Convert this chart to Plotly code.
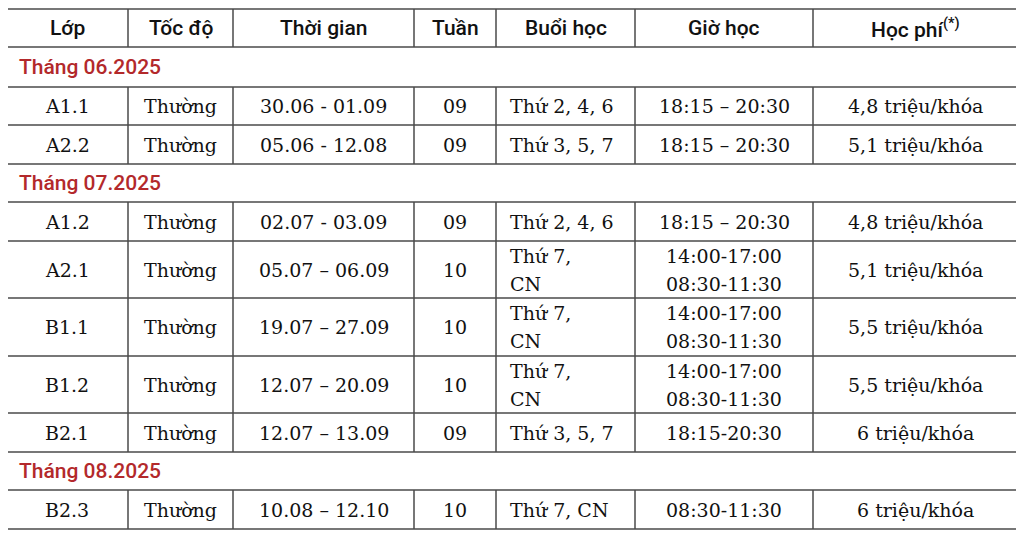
import plotly.graph_objects as go

# cot va du lieu
headers = ["Lớp", "Tốc độ", "Thời gian", "Tuần", "Buổi học", "Giờ học", "Học phí<sup>(*)</sup>"]
months = ["Tháng 06.2025", "Tháng 07.2025", "Tháng 08.2025"]
month_of_row = [0, 0, 1, 1, 1, 1, 1, 2]

lop = ["A1.1", "A2.2", "A1.2", "A2.1", "B1.1", "B1.2", "B2.1", "B2.3"]
toc_do = ["Thường"] * 8
thoi_gian = ["30.06 - 01.09", "05.06 - 12.08", "02.07 - 03.09", "05.07 – 06.09",
             "19.07 – 27.09", "12.07 – 20.09", "12.07 – 13.09", "10.08 – 12.10"]
tuan = ["09", "09", "09", "10", "10", "10", "09", "10"]
buoi_hoc = ["Thứ 2, 4, 6", "Thứ 3, 5, 7", "Thứ 2, 4, 6", "Thứ 7,\nCN", "Thứ 7,\nCN",
            "Thứ 7,\nCN", "Thứ 3, 5, 7", "Thứ 7, CN"]
gio_hoc = ["18:15 – 20:30", "18:15 – 20:30", "18:15 – 20:30", "14:00-17:00\n08:30-11:30",
           "14:00-17:00\n08:30-11:30", "14:00-17:00\n08:30-11:30", "18:15-20:30", "08:30-11:30"]
hoc_phi = ["4,8 triệu/khóa", "5,1 triệu/khóa", "4,8 triệu/khóa", "5,1 triệu/khóa",
           "5,5 triệu/khóa", "5,5 triệu/khóa", "6 triệu/khóa", "6 triệu/khóa"]

# bo cuc (pixel cua trang)
col_edges = [6, 128, 233, 414, 496, 635, 813, 1017]
row_edges = [9, 47, 87, 125, 164, 202, 241, 298, 356, 413, 452, 490, 529]
line_col = "#4a4a4a"
red = "#b3292b"
head_font = dict(family="Roboto", size=21, color="#111111", weight=500)
body_font = dict(family="DejaVu Serif", size=19, color="#111111")

# thu tu cac dong: header, thang, du lieu
layout_rows = [("h", None)]
last = -1
for i, m in enumerate(month_of_row):
    if m != last:
        layout_rows.append(("m", m))
        last = m
    layout_rows.append(("d", i))

fig = go.Figure()
shapes = []
ann = []


def vline(x, y0, y1):
    shapes.append(dict(type="line", x0=x, x1=x, y0=y0, y1=y1,
                       line=dict(color=line_col, width=1.5)))


def hline(y):
    shapes.append(dict(type="line", x0=col_edges[0], x1=col_edges[-1], y0=y, y1=y,
                       line=dict(color=line_col, width=1.5)))


for r, (kind, idx) in enumerate(layout_rows):
    y0, y1 = row_edges[r], row_edges[r + 1]
    yc = (y0 + y1) / 2
    hline(y0)
    if kind == "m":
        vline(col_edges[0], y0, y1)
        vline(col_edges[-1], y0, y1)
        ann.append(dict(x=col_edges[0] + 11, y=yc, text=months[idx], xanchor="left",
                        font=dict(head_font, color=red)))
        continue
    for c in range(len(col_edges)):
        vline(col_edges[c], y0, y1)
    if kind == "h":
        for c, h in enumerate(headers):
            ann.append(dict(x=(col_edges[c] + col_edges[c + 1]) / 2, y=yc, text=h,
                            font=head_font))
        continue
    vals = [lop[idx], toc_do[idx], thoi_gian[idx], tuan[idx], buoi_hoc[idx],
            gio_hoc[idx], hoc_phi[idx]]
    for c, v in enumerate(vals):
        lines = v.split("\n")
        n = len(lines)
        for k, t in enumerate(lines):
            yy = yc + (k - (n - 1) / 2) * 28
            if c == 4:
                ann.append(dict(x=col_edges[c] + 12, y=yy, text=t, xanchor="left",
                                font=body_font))
            else:
                ann.append(dict(x=(col_edges[c] + col_edges[c + 1]) / 2, y=yy, text=t,
                                font=body_font))

hline(row_edges[-1])

for a in ann:
    a.update(xref="x", yref="y", showarrow=False, yanchor="middle")

# trang co le 8px, nen bu lai
fig.update_layout(
    width=1016, height=530,
    margin=dict(l=0, r=0, t=0, b=0),
    paper_bgcolor="white", plot_bgcolor="white",
    xaxis=dict(range=[8, 1024], visible=False, fixedrange=True),
    yaxis=dict(range=[538, 8], visible=False, fixedrange=True),
    shapes=shapes, annotations=ann, showlegend=False,
)

fig.write_html("out.html")
